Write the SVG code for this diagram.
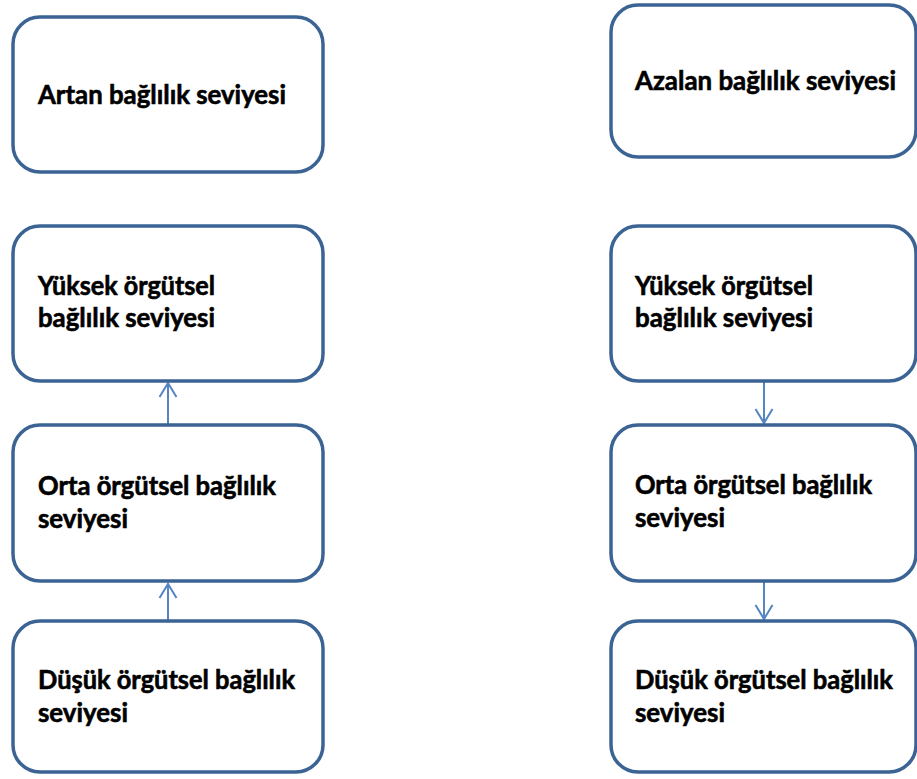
<svg xmlns="http://www.w3.org/2000/svg" width="917" height="779" viewBox="0 0 917 779">
<style>
.box{fill:#fff;stroke:#3b6394;stroke-width:3.5}
.t{font-family:Lato,"Open Sans","Liberation Sans",sans-serif;font-weight:700;font-size:26px;fill:#000;stroke:#000;stroke-width:0.6}
.c{fill:none;stroke:#5585c2;stroke-width:2}
</style>
<defs>
<marker id="ah" markerUnits="userSpaceOnUse" viewBox="0 0 20 20" refX="16" refY="10" markerWidth="20" markerHeight="20" orient="auto">
<path d="M2,1.5 L16,10 L2,18.5" fill="none" stroke="#5585c2" stroke-width="2"/>
</marker>
</defs>
<rect width="917" height="779" fill="#fff"/>
<g id="connectors">
<path class="c" d="M168,425 L168,383" marker-end="url(#ah)"/>
<path class="c" d="M168,621 L168,584" marker-end="url(#ah)"/>
<path class="c" d="M764,381 L764,423" marker-end="url(#ah)"/>
<path class="c" d="M764,581 L764,619" marker-end="url(#ah)"/>
</g>
<g id="n-artan">
<rect class="box" x="13" y="17" width="310" height="155" rx="27"/>
<text class="t" x="38" y="104" textLength="248" lengthAdjust="spacingAndGlyphs">Artan bağlılık seviyesi</text>
</g>
<g id="n-yuksek-l">
<rect class="box" x="13" y="226" width="310" height="155" rx="27"/>
<text class="t" x="38" y="295" textLength="177" lengthAdjust="spacingAndGlyphs">Yüksek örgütsel</text>
<text class="t" x="38" y="327" textLength="177" lengthAdjust="spacingAndGlyphs">bağlılık seviyesi</text>
</g>
<g id="n-orta-l">
<rect class="box" x="13" y="425" width="310" height="156" rx="27"/>
<text class="t" x="38" y="495" textLength="238" lengthAdjust="spacingAndGlyphs">Orta örgütsel bağlılık</text>
<text class="t" x="38" y="528" textLength="90" lengthAdjust="spacingAndGlyphs">seviyesi</text>
</g>
<g id="n-dusuk-l">
<rect class="box" x="13" y="621" width="310" height="151" rx="27"/>
<text class="t" x="38" y="689" textLength="257" lengthAdjust="spacingAndGlyphs">Düşük örgütsel bağlılık</text>
<text class="t" x="38" y="722" textLength="90" lengthAdjust="spacingAndGlyphs">seviyesi</text>
</g>
<g id="n-azalan">
<rect class="box" x="611" y="5" width="305" height="152" rx="27"/>
<text class="t" x="635" y="90" textLength="261" lengthAdjust="spacingAndGlyphs">Azalan bağlılık seviyesi</text>
</g>
<g id="n-yuksek-r">
<rect class="box" x="611" y="226" width="305" height="155" rx="27"/>
<text class="t" x="635" y="295" textLength="178" lengthAdjust="spacingAndGlyphs">Yüksek örgütsel</text>
<text class="t" x="635" y="327" textLength="178" lengthAdjust="spacingAndGlyphs">bağlılık seviyesi</text>
</g>
<g id="n-orta-r">
<rect class="box" x="611" y="425" width="305" height="156" rx="27"/>
<text class="t" x="635" y="494" textLength="237" lengthAdjust="spacingAndGlyphs">Orta örgütsel bağlılık</text>
<text class="t" x="635" y="527" textLength="90" lengthAdjust="spacingAndGlyphs">seviyesi</text>
</g>
<g id="n-dusuk-r">
<rect class="box" x="611" y="621" width="305" height="151" rx="27"/>
<text class="t" x="635" y="689" textLength="258" lengthAdjust="spacingAndGlyphs">Düşük örgütsel bağlılık</text>
<text class="t" x="635" y="722" textLength="90" lengthAdjust="spacingAndGlyphs">seviyesi</text>
</g>
</svg>
